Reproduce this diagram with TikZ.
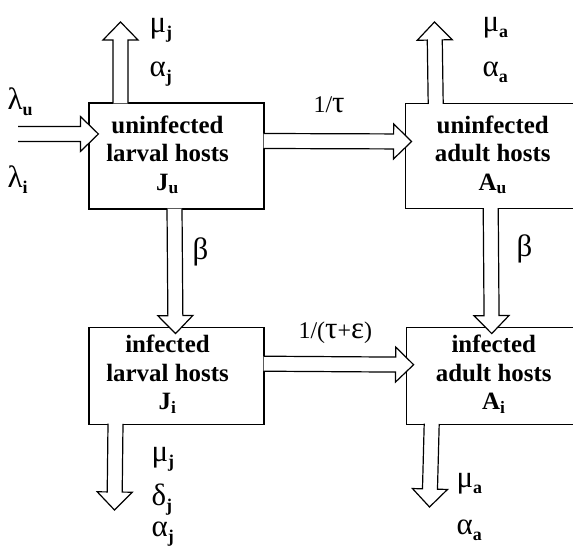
\documentclass[tikz,border=0pt]{standalone}
\usepackage{fontspec}
\setmainfont{Liberation Serif}
\usetikzlibrary{calc,positioning}

\newcommand\gk[1]{{\fontsize{31}{31}\selectfont #1}}
\newcommand\bsub[1]{\raisebox{-0.22em}{\fontsize{18}{18}\selectfont\bfseries #1}}
\newcommand\boxtext[1]{\begin{tabular}{@{}c@{}}#1\end{tabular}}

\begin{document}
\begin{tikzpicture}[x=1bp, y=1bp, line width=1.2bp,
  box/.style={rectangle, draw, fill=white, minimum width=175bp, inner sep=0pt,
    font=\fontsize{25}{28.5}\selectfont\bfseries},
  rate/.style={anchor=base west, inner sep=0pt, font=\fontsize{24}{30}\selectfont},
  flow/.style={fill=white, to path={
    ($(\tikztostart)!7.5bp!90:(\tikztotarget)$)
    -- ($(\tikztotarget)!18bp!(\tikztostart)!7.5bp!-90:(\tikztostart)$)
    -- ($(\tikztotarget)!18bp!(\tikztostart)!17.5bp!-90:(\tikztostart)$)
    -- (\tikztotarget)
    -- ($(\tikztotarget)!18bp!(\tikztostart)!17.5bp!90:(\tikztostart)$)
    -- ($(\tikztotarget)!18bp!(\tikztostart)!7.5bp!90:(\tikztostart)$)
    -- ($(\tikztostart)!7.5bp!-90:(\tikztotarget)$)}}]
  \useasboundingbox (0,0) rectangle (573,546);
  \clip (0,0) rectangle (573,546);

  % compartments
  \node[box, minimum height=106bp] (Ju) at (176.5,390) {\boxtext{uninfected\\larval hosts\\J\textsubscript{u}}\kern18bp};
  \node[box, minimum height=105bp, right=140bp of Ju] (Au) {\boxtext{uninfected\\adult hosts\\A\textsubscript{u}}};
  \node[box, minimum height=97bp, below=117bp of Ju] (Ji) {\boxtext{infected\\larval hosts\\J\textsubscript{i}}\kern18bp};
  \node[box, minimum height=97bp, right=141bp of Ji] (Ai) {\boxtext{infected\\adult hosts\\A\textsubscript{i}}};

  % arrow ends
  \coordinate (lam) at (18,412);
  \coordinate (JuW) at ([shift={(10,22)}]Ju.west);
  \coordinate (JuE) at ([shift={(-1,15)}]Ju.east);
  \coordinate (AuW) at ([shift={(7,14.5)}]Au.west);
  \coordinate (JuN) at ([shift={(-56,-1)}]Ju.north);
  \coordinate (JuOut) at (120.5,524);
  \coordinate (AuN) at ([shift={(-57,-1)}]Au.north);
  \coordinate (AuOut) at (434.5,524);
  \coordinate (JuS) at ([shift={(-2,1)}]Ju.south);
  \coordinate (JiN) at ([shift={(-1,-7)}]Ji.north);
  \coordinate (AuS) at ([shift={(-2,1)}]Au.south);
  \coordinate (AiN) at ([shift={(-2,-7)}]Ai.north);
  \coordinate (JiE) at ([shift={(-1,12)}]Ji.east);
  \coordinate (AiW) at ([shift={(8,11)}]Ai.west);
  \coordinate (JiS) at ([shift={(-61,1)}]Ji.south);
  \coordinate (JiOut) at (114.5,36);
  \coordinate (AiS) at ([shift={(-62,1)}]Ai.south);
  \coordinate (AiOut) at (429.5,39);

  % flows
  \filldraw[flow] (lam) to (JuW);
  \filldraw[flow] (JuE) to (AuW);
  \filldraw[flow] (JuN) to (JuOut);
  \filldraw[flow] (AuN) to (AuOut);
  \filldraw[flow] (JuS) to (JiN);
  \filldraw[flow] (AuS) to (AiN);
  \filldraw[flow] (JiE) to (AiW);
  \filldraw[flow] (JiS) to (JiOut);
  \filldraw[flow] (AiS) to (AiOut);

  % rates
  \node[rate] (lamu) at (7,436) {\gk{λ}\bsub{u}};
  \node[rate] (lami) at (7,358) {\gk{λ}\bsub{i}};
  \node[rate] (muJu) at (149,513) {\gk{μ}\bsub{j}};
  \node[rate] (alJu) at (149,469) {\gk{α}\bsub{j}};
  \node[rate] (muAu) at (482,514) {\gk{μ}\bsub{a}};
  \node[rate] (alAu) at (482,469) {\gk{α}\bsub{a}};
  \node[rate] (tau) at (313,433) {1/\gk{τ}};
  \node[rate] (betJ) at (192,286) {\gk{β}};
  \node[rate] (betA) at (516,289) {\gk{β}};
  \node[rate] (taueps) at (298,207) {1/(\gk{τ}+\gk{ε})};
  \node[rate] (muJi) at (151,84) {\gk{μ}\bsub{j}};
  \node[rate] (deJi) at (151,40) {\gk{δ}\bsub{j}};
  \node[rate] (alJi) at (151,9) {\gk{α}\bsub{j}};
  \node[rate] (muAi) at (456,58) {\gk{μ}\bsub{a}};
  \node[rate] (alAi) at (456,11) {\gk{α}\bsub{a}};
\end{tikzpicture}
\end{document}
